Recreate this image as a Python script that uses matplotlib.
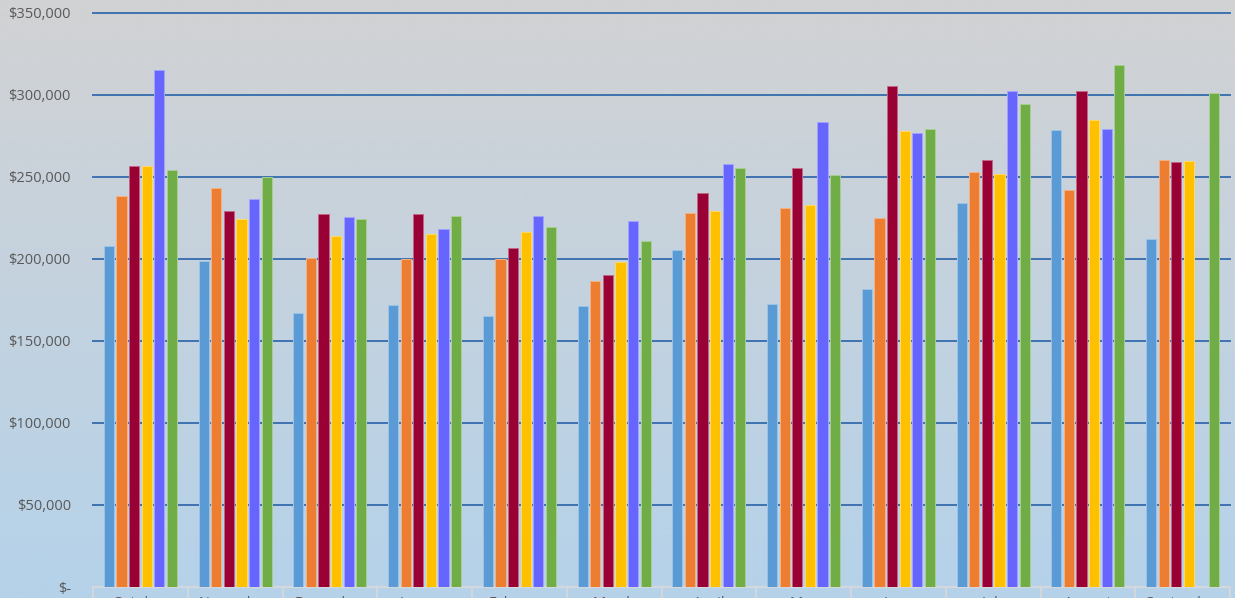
import numpy as np
import matplotlib
matplotlib.use("Agg")
import matplotlib.pyplot as plt
from matplotlib.colors import to_rgb
from matplotlib.transforms import blended_transform_factory

plt.rcParams['font.family'] = ['Open Sans', 'DejaVu Sans']

months = ["October", "November", "December", "January", "February", "March",
          "April", "May", "June", "July", "August", "September"]

series_a = [208000, 198500, 167000, 172000, 165500, 171500, 205500, 172500, 181500, 234000, 278500, 212500]
series_b = [238500, 243500, 200500, 200000, 200000, 186500, 228000, 231000, 225000, 253000, 242000, 260500]
series_c = [256500, 229500, 227500, 227500, 206500, 190500, 240000, 255500, 305500, 260500, 302500, 259000]
series_d = [256500, 224500, 214000, 215500, 216500, 198000, 229000, 233000, 278000, 252000, 285000, 259500]
series_e = [315500, 236500, 225500, 218000, 226500, 223000, 258000, 283500, 277000, 302500, 279000, np.nan]
series_f = [254500, 250000, 224500, 226000, 219500, 211000, 255500, 251000, 279500, 294500, 318000, 301000]

all_series = [series_a, series_b, series_c, series_d, series_e, series_f]
colors = ["#5B9BD5", "#ED7D31", "#990033", "#FFC000", "#6666FF", "#70AD47"]

yticks = [0, 50000, 100000, 150000, 200000, 250000, 300000, 350000]

W, H = 1235, 598
fig = plt.figure(figsize=(W / 100, H / 100), dpi=100)

# soft vertical gradient: grey at the top, light blue at the bottom
bg = fig.add_axes([0, 0, 1, 1], zorder=0)
top = np.array([210, 210, 212]) / 255
bottom = np.array([181, 210, 234]) / 255
t = np.linspace(0, 1, 256)[:, None]
grad = top[None, :] * (1 - t) + bottom[None, :] * t
bg.imshow(grad[:, None, :], aspect='auto', extent=[0, 1, 0, 1], interpolation='bilinear')
bg.set_axis_off()

ax = fig.add_axes([93 / W, 11 / H, 1137 / W, 574 / H], zorder=1)
ax.patch.set_alpha(0)

x = np.arange(len(months))
pitch = 0.133
width = 0.108
for i, (vals, c) in enumerate(zip(all_series, colors)):
    edge = tuple(0.6 * np.array(to_rgb(c)) + 0.4)
    ax.bar(x + (i - 2.5) * pitch, vals, width=width, color=c,
           edgecolor=edge, linewidth=0.7, zorder=3)

ax.set_xlim(-0.5, len(months) - 0.5)
ax.set_ylim(0, 350000)

for v in yticks[1:]:
    ax.axhline(v, color="#3F72B0", linewidth=1.4, zorder=2, clip_on=False)

ax.set_yticks(yticks)
ax.set_yticklabels(["$-" if v == 0 else f"${v:,.0f}" for v in yticks])
ax.tick_params(axis='y', length=0, pad=16, labelsize=10.5, labelcolor="#595959")
ax.set_xticks([])

for s in ["top", "right", "left"]:
    ax.spines[s].set_visible(False)
ax.spines["bottom"].set_color("#D4D8DC")
ax.spines["bottom"].set_linewidth(1.6)

# category label boxes under the axis
trans = blended_transform_factory(ax.transData, ax.transAxes)
for b in np.arange(-0.5, len(months), 1.0):
    ax.plot([b, b], [0, -0.04], transform=trans, color="#D4D8DC",
            linewidth=1.4, clip_on=False)
for xi, m in zip(x, months):
    ax.text(xi, -0.015, m, transform=trans, ha='center', va='top',
            fontsize=10.5, color="#595959", clip_on=False)

fig.savefig("out.png", dpi=100)
